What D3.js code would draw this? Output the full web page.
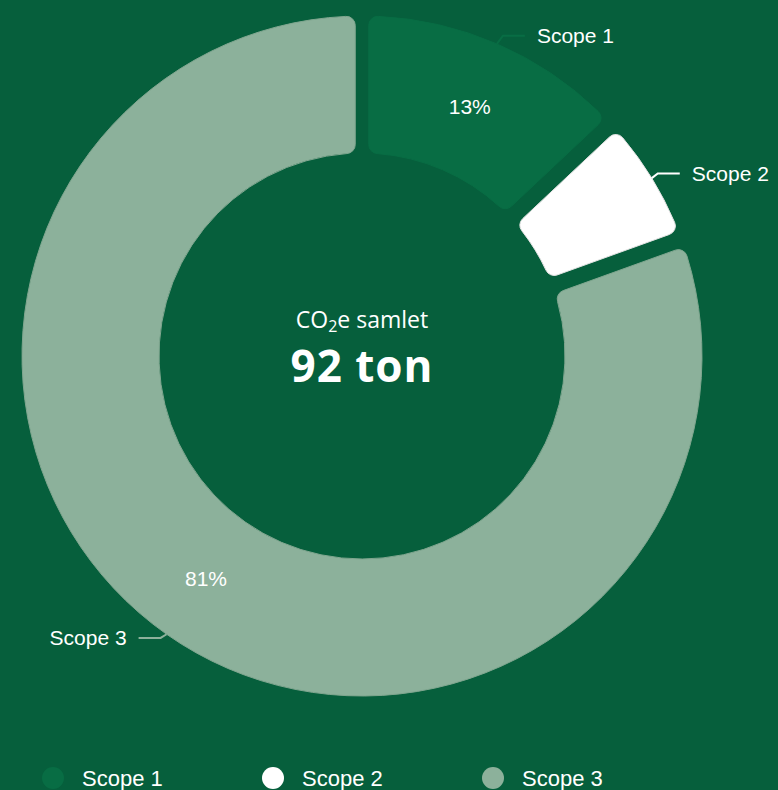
<!DOCTYPE html>
<html>
<head>
<meta charset="utf-8">
<script src="https://cdn.jsdelivr.net/npm/d3@7"></script>
<style>
  html, body { margin: 0; padding: 0; background: #065f3c; }
  svg { display: block; }
</style>
</head>
<body>
<div id="chart"></div>
<script>
// data (tons of CO2e)
const categories = ['Scope 1', 'Scope 2', 'Scope 3'];
const values = [11.95, 5.98, 74.07];
const colors = ['#086d44', '#ffffff', '#8cb19b'];
const borders = ['#086d44', '#e2e2e2', '#7fa68f'];
const highlighted = [false, true, false];
const centerTitle = 'samlet';
const unit = 'ton';

const width = 778, height = 790;
const cx = 362, cy = 356;
const outerR = 340, innerR = 203;

const svg = d3.select('#chart')
  .append('svg')
  .attr('width', width)
  .attr('height', height);

svg.append('rect')
  .attr('width', width)
  .attr('height', height)
  .attr('fill', '#065f3c');

const total = d3.sum(values);
const data = categories.map((c, i) => ({ name: c, value: values[i], i: i }));

const pie = d3.pie()
  .sort(null)
  .value(d => d.value);

const arcs = pie(data);
// the highlighted slice gets a slightly wider gap
arcs.forEach(d => { d.padAngle = (highlighted[d.data.i] ? 20 : 13.5) / outerR; });

const arc = d3.arc()
  .innerRadius(innerR)
  .outerRadius(outerR)
  .cornerRadius(9)
  .padRadius(outerR);

const g = svg.append('g')
  .attr('transform', `translate(${cx},${cy})`);

g.selectAll('.slice')
  .data(arcs)
  .enter()
  .append('path')
  .attr('class', 'slice')
  .attr('d', arc)
  .style('fill', d => colors[d.data.i])
  .style('stroke', d => borders[d.data.i])
  .style('stroke-width', 1);

// percentage labels inside the ring
const fmtPct = d => Math.round(d.value / total * 100) + '%';
const centroidArc = d3.arc().innerRadius(innerR).outerRadius(outerR);
g.selectAll('.pct')
  .data(arcs.filter(d => !highlighted[d.data.i]))
  .enter()
  .append('text')
  .attr('class', 'pct')
  .attr('transform', d => `translate(${centroidArc.centroid(d)})`)
  .attr('text-anchor', 'middle')
  .attr('dy', '0.36em')
  .style('font-family', 'Liberation Sans, Arial, sans-serif')
  .style('font-size', '21px')
  .style('fill', '#ffffff')
  .text(fmtPct);

// outside labels with connectors
const labels = g.selectAll('.outlabel')
  .data(arcs)
  .enter()
  .append('g')
  .attr('class', 'outlabel');

labels.each(function (d) {
  const a = (d.startAngle + d.endAngle) / 2;
  const side = Math.sin(a) >= 0 ? 1 : -1;
  const c = Math.cos(a);
  const px = outerR * Math.sin(a);
  const py = -outerR * c;
  const ly = py - (c > 0 ? 9 : 4.5) * c;
  const qx = px + 6 * side;
  const ex = px + 28 * side;
  const el = d3.select(this);
  el.append('path')
    .attr('d', `M${px},${py}L${qx},${ly}L${ex},${ly}`)
    .style('fill', 'none')
    .style('stroke', colors[d.data.i])
    .style('stroke-width', 2);
  el.append('text')
    .attr('x', ex + 12 * side)
    .attr('y', ly)
    .attr('dy', '0.36em')
    .attr('text-anchor', side > 0 ? 'start' : 'end')
    .style('font-family', 'Liberation Sans, Arial, sans-serif')
    .style('font-size', '21px')
    .style('fill', '#ffffff')
    .text(d.data.name);
});

// centre text
const t1 = g.append('text')
  .attr('text-anchor', 'middle')
  .attr('y', -28)
  .style('font-family', 'Open Sans, sans-serif')
  .style('font-size', '23px')
  .style('fill', '#ffffff');
t1.append('tspan').text('CO');
t1.append('tspan').attr('dy', 4).style('font-size', '16px').text('2');
t1.append('tspan').attr('dy', -4).text('e ' + centerTitle);

g.append('text')
  .attr('text-anchor', 'middle')
  .attr('y', 26)
  .style('font-family', 'Open Sans, sans-serif')
  .style('font-weight', 'bold')
  .style('font-size', '44px')
  .style('letter-spacing', '1px')
  .style('fill', '#ffffff')
  .text(Math.round(total) + ' ' + unit);

// legend
const legend = svg.append('g')
  .attr('transform', 'translate(53,778)');

const items = legend.selectAll('.legend-item')
  .data(categories)
  .enter()
  .append('g')
  .attr('class', 'legend-item')
  .attr('transform', (d, i) => `translate(${i * 220},0)`);

items.append('circle')
  .attr('r', 11)
  .style('fill', (d, i) => colors[i]);

items.append('text')
  .attr('x', 29)
  .attr('dy', '0.36em')
  .style('font-family', 'Liberation Sans, Arial, sans-serif')
  .style('font-size', '22px')
  .style('fill', '#ffffff')
  .text(d => d);
</script>
</body>
</html>
